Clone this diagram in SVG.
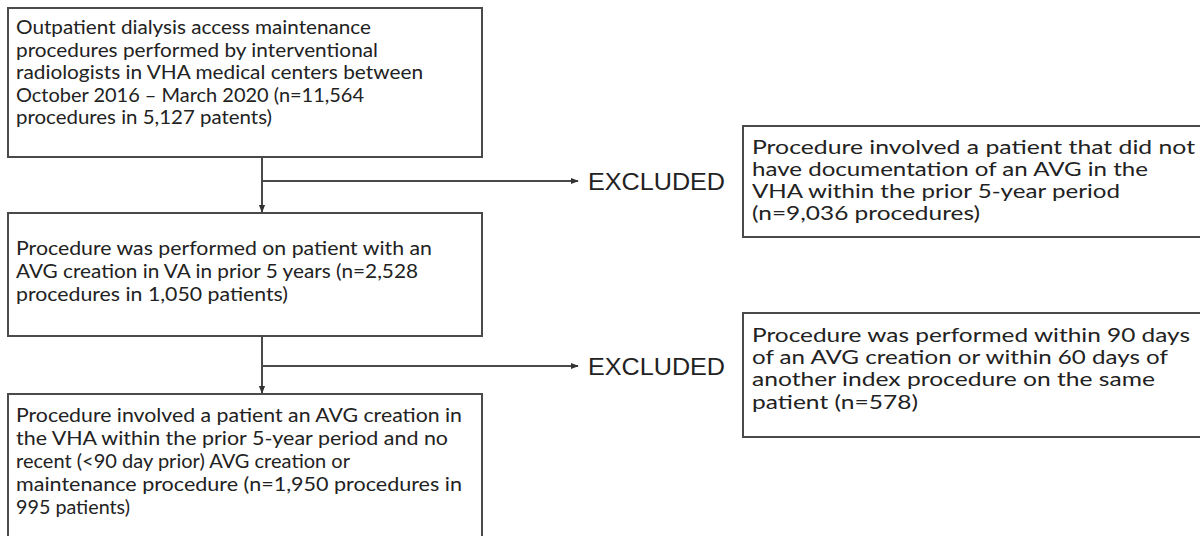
<svg xmlns="http://www.w3.org/2000/svg" width="1200" height="536" viewBox="0 0 1200 536">
<defs>
<style>
.box{fill:#fff;stroke:#4a4a4a;stroke-width:2}
.t{font-family:Lato,"Open Sans","Liberation Sans",sans-serif;font-size:18.5px;fill:#222}
.ex{font-family:"Liberation Sans",Arial,sans-serif;font-size:23px;fill:#222}
.ln{fill:none;stroke:#4a4a4a;stroke-width:2}
</style>
<marker id="ah" viewBox="0 0 10 10" refX="9" refY="5" markerWidth="8" markerHeight="8" orient="auto" markerUnits="userSpaceOnUse">
<path d="M0,1 L10,5 L0,9 z" fill="#333"/>
</marker>
</defs>
<rect width="1200" height="536" fill="#fff"/>
<g id="connectors">
<line class="ln" x1="262" y1="157" x2="262" y2="212" marker-end="url(#ah)"/>
<line class="ln" x1="262" y1="181" x2="578" y2="181" marker-end="url(#ah)"/>
<line class="ln" x1="262" y1="336" x2="262" y2="393" marker-end="url(#ah)"/>
<line class="ln" x1="262" y1="366" x2="578" y2="366" marker-end="url(#ah)"/>
<text class="ex" x="588" y="190" textLength="137" lengthAdjust="spacingAndGlyphs">EXCLUDED</text>
<text class="ex" x="588" y="375" textLength="137" lengthAdjust="spacingAndGlyphs">EXCLUDED</text>
</g>
<g id="node1">
<rect class="box" x="8" y="8" width="474" height="149"/>
<text class="t" x="16" y="34" textLength="355" lengthAdjust="spacingAndGlyphs">Outpatient dialysis access maintenance</text>
<text class="t" x="16" y="57" textLength="362" lengthAdjust="spacingAndGlyphs">procedures performed by interventional</text>
<text class="t" x="16" y="79" textLength="407" lengthAdjust="spacingAndGlyphs">radiologists in VHA medical centers between</text>
<text class="t" x="16" y="102" textLength="348" lengthAdjust="spacingAndGlyphs">October 2016 – March 2020 (n=11,564</text>
<text class="t" x="16" y="124" textLength="256" lengthAdjust="spacingAndGlyphs">procedures in 5,127 patents)</text>
</g>
<g id="node2">
<rect class="box" x="8" y="213" width="474" height="123"/>
<text class="t" x="16" y="255" textLength="416" lengthAdjust="spacingAndGlyphs">Procedure was performed on patient with an</text>
<text class="t" x="16" y="278" textLength="402" lengthAdjust="spacingAndGlyphs">AVG creation in VA in prior 5 years (n=2,528</text>
<text class="t" x="16" y="301" textLength="272" lengthAdjust="spacingAndGlyphs">procedures in 1,050 patients)</text>
</g>
<g id="node3">
<rect class="box" x="8" y="394" width="474" height="150"/>
<text class="t" x="16" y="422" textLength="446" lengthAdjust="spacingAndGlyphs">Procedure involved a patient an AVG creation in</text>
<text class="t" x="16" y="445" textLength="432" lengthAdjust="spacingAndGlyphs">the VHA within the prior 5-year period and no</text>
<text class="t" x="16" y="468" textLength="334" lengthAdjust="spacingAndGlyphs">recent (&lt;90 day prior) AVG creation or</text>
<text class="t" x="16" y="491" textLength="446" lengthAdjust="spacingAndGlyphs">maintenance procedure (n=1,950 procedures in</text>
<text class="t" x="16" y="514" textLength="114" lengthAdjust="spacingAndGlyphs">995 patients)</text>
</g>
<g id="node4">
<rect class="box" x="743" y="126" width="470" height="111"/>
<text class="t" x="752" y="154" textLength="443" lengthAdjust="spacingAndGlyphs">Procedure involved a patient that did not</text>
<text class="t" x="752" y="176" textLength="396" lengthAdjust="spacingAndGlyphs">have documentation of an AVG in the</text>
<text class="t" x="752" y="198" textLength="368" lengthAdjust="spacingAndGlyphs">VHA within the prior 5-year period</text>
<text class="t" x="752" y="220" textLength="228" lengthAdjust="spacingAndGlyphs">(n=9,036 procedures)</text>
</g>
<g id="node5">
<rect class="box" x="743" y="313" width="470" height="124"/>
<text class="t" x="752" y="342" textLength="438" lengthAdjust="spacingAndGlyphs">Procedure was performed within 90 days</text>
<text class="t" x="752" y="364" textLength="416" lengthAdjust="spacingAndGlyphs">of an AVG creation or within 60 days of</text>
<text class="t" x="752" y="386" textLength="403" lengthAdjust="spacingAndGlyphs">another index procedure on the same</text>
<text class="t" x="752" y="409" textLength="166" lengthAdjust="spacingAndGlyphs">patient (n=578)</text>
</g>
</svg>
